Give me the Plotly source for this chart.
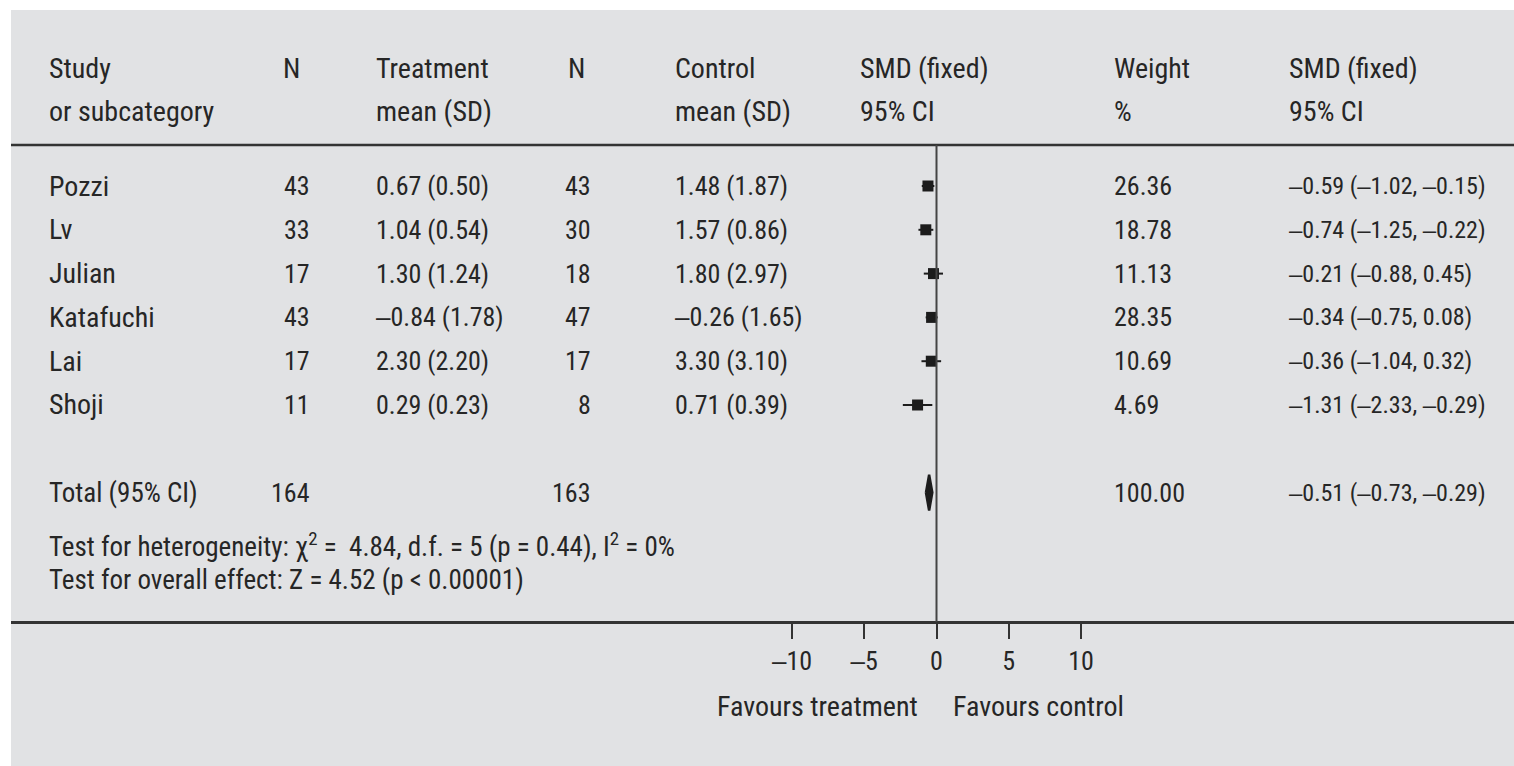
import plotly.graph_objects as go

# ---- data ----
studies = ["Pozzi", "Lv", "Julian", "Katafuchi", "Lai", "Shoji"]
n_treat = [43, 33, 17, 43, 17, 11]
treat_mean = [0.67, 1.04, 1.30, -0.84, 2.30, 0.29]
treat_sd = [0.50, 0.54, 1.24, 1.78, 2.20, 0.23]
n_ctrl = [43, 30, 18, 47, 17, 8]
ctrl_mean = [1.48, 1.57, 1.80, -0.26, 3.30, 0.71]
ctrl_sd = [1.87, 0.86, 2.97, 1.65, 3.10, 0.39]
weights = [26.36, 18.78, 11.13, 28.35, 10.69, 4.69]
smd = [-0.59, -0.74, -0.21, -0.34, -0.36, -1.31]
smd_lo = [-1.02, -1.25, -0.88, -0.75, -1.04, -2.33]
smd_hi = [-0.15, -0.22, 0.45, 0.08, 0.32, -0.29]

total_n_treat = 164
total_n_ctrl = 163
total_weight = 100.00
total_smd = -0.51
total_lo = -0.73
total_hi = -0.29

heterogeneity = "Test for heterogeneity: χ<sup>2</sup> =  4.84, d.f. = 5 (p = 0.44), I<sup>2</sup> = 0%"
overall = "Test for overall effect: Z = 4.52 (p < 0.00001)"

tick_vals = [-10, -5, 0, 5, 10]
tick_text = ["‒10", "‒5", "0", "5", "10"]

# ---- canvas geometry ----
W, H = 1514, 766
ML, MT = 11, 10
PW, PH = W - ML, H - MT
ROW0, ROWSTEP = 186, 43.8          # pixel centre of first study row, row pitch
X0, XSCALE = 936.5, 14.45          # pixel of SMD = 0, pixels per SMD unit

FONT = "Roboto Condensed, Liberation Sans Narrow, Arial Narrow, Liberation Sans, sans-serif"
FS_WORD = 28     # labels and headers
FS_MIX = 27      # footnote lines
FS_NUM = 26      # numeric columns
FS_CI = 24       # confidence-interval column
INK = "#262626"
BG = "#e1e2e4"


def fx(px):
    return (px - ML) / PW


def fy(py):
    return 1 - (py - MT) / PH


def row_y(i):
    return ROW0 + ROWSTEP * i


def dash(v):
    # figure dash keeps negative numbers as narrow as the digits
    return f"{v:.2f}".replace("-", "‒")


annotations = []


def txt(text, px, py, anchor="left", size=FS_WORD):
    annotations.append(dict(
        text=text, x=fx(px), y=fy(py), xref="paper", yref="paper",
        xanchor=anchor, yanchor="middle", showarrow=False,
        font=dict(family=FONT, size=size, color=INK),
    ))


# header
header_rows = [
    ("Study", "N", "Treatment", "N", "Control", "SMD (fixed)", "Weight", "SMD (fixed)"),
    ("or subcategory", "", "mean (SD)", "", "mean (SD)", "95% CI", "%", "95% CI"),
]
col_left = [47, 281, 374, 566, 673, 858, 1112, 1287]
for r, row in enumerate(header_rows):
    yy = 69 + 43 * r
    for c, t in enumerate(row):
        if t:
            txt(t, col_left[c], yy)

# study rows
for i, s in enumerate(studies):
    yy = row_y(i)
    txt(s, 47, yy)
    txt(str(n_treat[i]), 312, yy, "right", FS_NUM)
    txt(f"{dash(treat_mean[i])} ({treat_sd[i]:.2f})", 374, yy, size=FS_NUM)
    txt(str(n_ctrl[i]), 593, yy, "right", FS_NUM)
    txt(f"{dash(ctrl_mean[i])} ({ctrl_sd[i]:.2f})", 673, yy, size=FS_NUM)
    txt(f"{weights[i]:.2f}", 1112, yy, size=FS_NUM)
    txt(f"{dash(smd[i])} ({dash(smd_lo[i])}, {dash(smd_hi[i])})", 1287, yy, size=FS_CI)

# total row
ty = row_y(7)
txt("Total (95% CI)", 47, ty, size=FS_MIX)
txt(str(total_n_treat), 312, ty, "right", FS_NUM)
txt(str(total_n_ctrl), 593, ty, "right", FS_NUM)
txt(f"{total_weight:.2f}", 1112, ty, size=FS_NUM)
txt(f"{dash(total_smd)} ({dash(total_lo)}, {dash(total_hi)})", 1287, ty, size=FS_CI)
txt(heterogeneity, 47, 545, size=FS_MIX)
txt(overall, 47, 580, size=FS_MIX)

# axis captions
txt("Favours treatment", 920, 706, "right")
txt("Favours control", 951, 706, "left")

fig = go.Figure()

# study estimates with confidence intervals
fig.add_trace(go.Scatter(
    x=smd, y=list(range(len(studies))), mode="markers",
    marker=dict(symbol="square", size=11, color="#1c1c1c"),
    error_x=dict(type="data", symmetric=False,
                 array=[h - m for h, m in zip(smd_hi, smd)],
                 arrayminus=[m - l for m, l in zip(smd, smd_lo)],
                 thickness=2, width=0, color="#1c1c1c"),
    hoverinfo="skip",
))

# pooled estimate diamond
half_h = 18 / ROWSTEP
fig.add_trace(go.Scatter(
    x=[total_lo, total_smd, total_hi, total_smd, total_lo],
    y=[7, 7 + half_h, 7, 7 - half_h, 7],
    mode="lines", fill="toself", fillcolor="#1c1c1c",
    line=dict(color="#1c1c1c", width=2.5), hoverinfo="skip",
))

x_lo = (ML - X0) / XSCALE
x_hi = (W - X0) / XSCALE
y_top = (MT - ROW0) / ROWSTEP
y_bot = (H - ROW0) / ROWSTEP

shapes = [
    # rule under the header
    dict(type="line", xref="paper", yref="paper", x0=0, x1=1,
         y0=fy(145), y1=fy(145), line=dict(color="#333333", width=2.5)),
    # line of no effect
    dict(type="line", xref="x", yref="paper", x0=0, x1=0,
         y0=fy(145), y1=fy(622), line=dict(color="#444444", width=2)),
]

fig.update_layout(
    width=W, height=H, autosize=False,
    margin=dict(l=ML, r=0, t=MT, b=0, pad=0),
    paper_bgcolor="white", plot_bgcolor=BG,
    showlegend=False,
    annotations=annotations, shapes=shapes,
    xaxis=dict(
        range=[x_lo, x_hi], domain=[0, 1], anchor="free", position=fy(622),
        showgrid=False, zeroline=False, showline=True, linecolor="#333333", linewidth=2.5,
        tickmode="array", tickvals=tick_vals, ticktext=tick_text,
        ticks="outside", ticklen=15, tickwidth=2, tickcolor="#333333",
        tickfont=dict(family=FONT, size=FS_NUM, color=INK), fixedrange=True,
    ),
    yaxis=dict(
        range=[y_bot, y_top], domain=[0, 1], showgrid=False, zeroline=False,
        showticklabels=False, showline=False, fixedrange=True,
    ),
)

fig.write_html("out.html")
